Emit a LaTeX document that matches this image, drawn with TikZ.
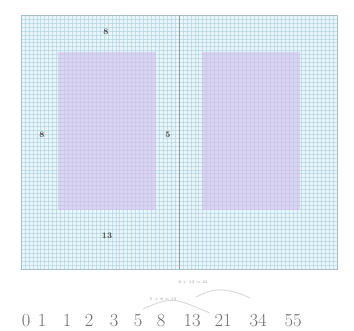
\documentclass[tikz,border=0pt]{standalone}
\usetikzlibrary{calc}
\definecolor{gridbg}{HTML}{EAF6FA}
\definecolor{gridminor}{HTML}{B0D6E4}
\definecolor{gridframe}{HTML}{A6BFCB}
\definecolor{rectfill}{HTML}{D4BCEC}
\definecolor{labelgray}{HTML}{444444}
\definecolor{numgray}{HTML}{6E6E6E}
\definecolor{arcgray}{HTML}{D8D8D8}
\tikzset{
  minorline/.style={draw=gridminor, line width=0.6pt, opacity=0.7},
  panel/.style={fill=rectfill, fill opacity=0.6},
  dimlabel/.style={font=\bfseries\fontsize{8.5}{9}\selectfont, text=labelgray, inner sep=0pt},
  fibnum/.style={font=\fontsize{18.5}{20}\selectfont, text=numgray, inner sep=0pt, anchor=base},
  sumlabel/.style={font=\fontsize{4}{5}\selectfont, text=numgray!80, inner sep=0pt},
  sumarc/.style={draw=arcgray, line width=0.9pt}
}
\begin{document}
\begin{tikzpicture}[x=1pt,y=-1pt]
\useasboundingbox (0,0) rectangle (354,331);
\fill[white] (0,0) rectangle (354,331);
% grid background
\fill[gridbg] (21,15) rectangle (337,269);
% grid lines
\foreach \i in {0,...,80} {
  \draw[minorline] ({21+\i*3.95},15) -- ({21+\i*3.95},269);
}
\foreach \j in {0,...,64} {
  \draw[minorline] (21,{15+\j*3.97}) -- (337,{15+\j*3.97});
}
% purple panels
\fill[panel] (58,52) rectangle (156,210);
\fill[panel] (202,52) rectangle (300,210);
% frame and centre fold
\draw[draw=gridframe, line width=0.6pt] (21,15) rectangle (337,269);
\draw[draw=gray!80, line width=0.6pt] (179,15) -- (179,269);
% dimension labels
\node[dimlabel] (ltop) at (106,32) {8};
\node[dimlabel] (lleft) at (42,135) {8};
\node[dimlabel] (lmid) at (168,135) {5};
\node[dimlabel] (lbot) at (107,236) {13};
% sum arcs
\draw[sumarc] (143,309) .. controls (158,302) and (168,299) .. (178,301) .. controls (190,304) and (200,309) .. (210,313);
\draw[sumarc] (196,297) .. controls (206,292) and (214,289) .. (223,290) .. controls (233,291) and (242,294) .. (250,298);
\node[sumlabel] (s1) at (163,300) {5 + 8 = 13};
\node[sumlabel] (s2) at (193,283) {8 + 13 = 21};
% Fibonacci numbers
\node[fibnum] (n0) at (26,327) {0};
\node[fibnum] (n1) at (42,327) {1};
\node[fibnum] (n2) at (67,327) {1};
\node[fibnum] (n3) at (89,327) {2};
\node[fibnum] (n4) at (114,327) {3};
\node[fibnum] (n5) at (138,327) {5};
\node[fibnum] (n6) at (161,327) {8};
\node[fibnum] (n7) at (192,327) {13};
\node[fibnum] (n8) at (223,327) {21};
\node[fibnum] (n9) at (258,327) {34};
\node[fibnum] (n10) at (293,327) {55};
\end{tikzpicture}
\end{document}
